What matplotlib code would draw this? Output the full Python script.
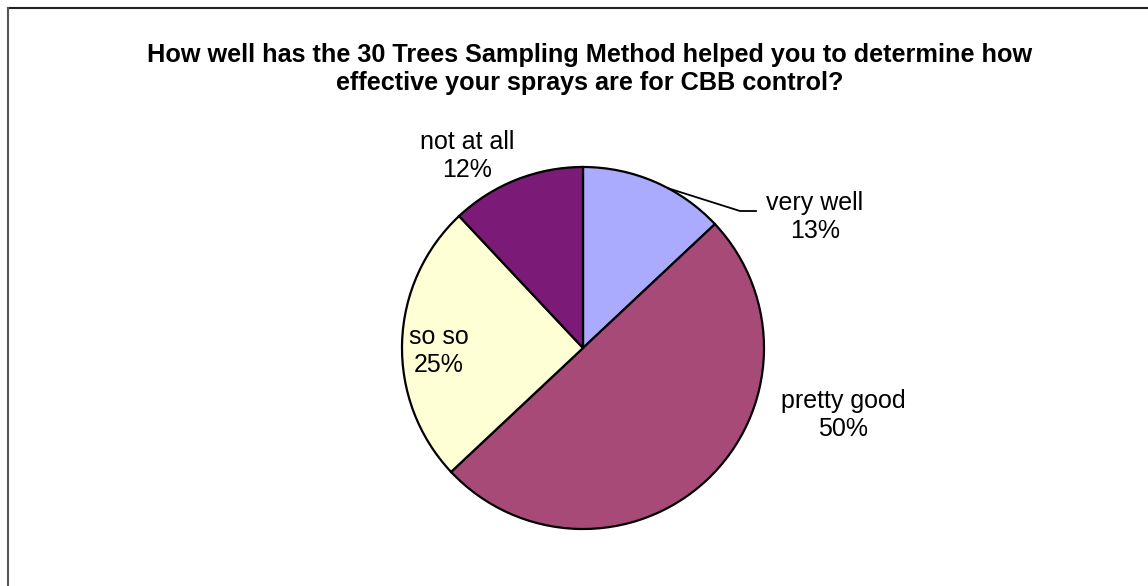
import numpy as np
import matplotlib.pyplot as plt
from matplotlib.lines import Line2D

plt.rcParams['font.family'] = ['Liberation Sans', 'DejaVu Sans']

labels = ['very well', 'pretty good', 'so so', 'not at all']
values = [13, 50, 25, 12]
colors = ['#AAAAFF', '#A84A78', '#FFFFD6', '#7C1A78']
title = ('How well has the 30 Trees Sampling Method helped you to determine how\n'
         'effective your sprays are for CBB control?')

W, H = 1148, 586
fig = plt.figure(figsize=(W / 100, H / 100), dpi=100)
ax = fig.add_axes([0, 0, 1, 1])

# pie in pixel-like coords (y up)
cx, cy, r = 583, H - 348, 181
wedges, _ = ax.pie(values, colors=colors, startangle=90, counterclock=False,
                   center=(cx, cy), radius=r,
                   wedgeprops=dict(edgecolor='black', linewidth=1.6))
ax.set_xlim(0, W)
ax.set_ylim(0, H)
ax.set_aspect('equal')
ax.axis('off')

# data labels
label_pos = {
    'very well': (815, 217),
    'pretty good': (843, 415),
    'so so': (439, 351),
    'not at all': (467, 156),
}
total = sum(values)
for lab, v in zip(labels, values):
    x, y = label_pos[lab]
    ax.text(x, H - y, f'{lab}\n{v / total:.0%}', ha='center', va='center',
            fontsize=18, linespacing=1.2)

# leader line for the small first slice
w = wedges[0]
ang = np.deg2rad(w.theta1 + 0.4 * (w.theta2 - w.theta1))
sx, sy = cx + r * np.cos(ang), cy + r * np.sin(ang)
ax.plot([sx, 740, 756], [sy, H - 211, H - 211], color='black', lw=1.3)

fig.text(590 / W, 1 - 69 / H, title, ha='center', va='center', fontsize=18.2,
         fontweight='bold', linespacing=1.2)

# chart area border (clipped at right and bottom)
fig.add_artist(Line2D([8 / W, 1], [1 - 8 / H, 1 - 8 / H], color='#222222', lw=1.5))
fig.add_artist(Line2D([8 / W, 8 / W], [0, 1 - 8 / H], color='#555555', lw=1.5))

fig.savefig('out.png', dpi=100, facecolor='white')
